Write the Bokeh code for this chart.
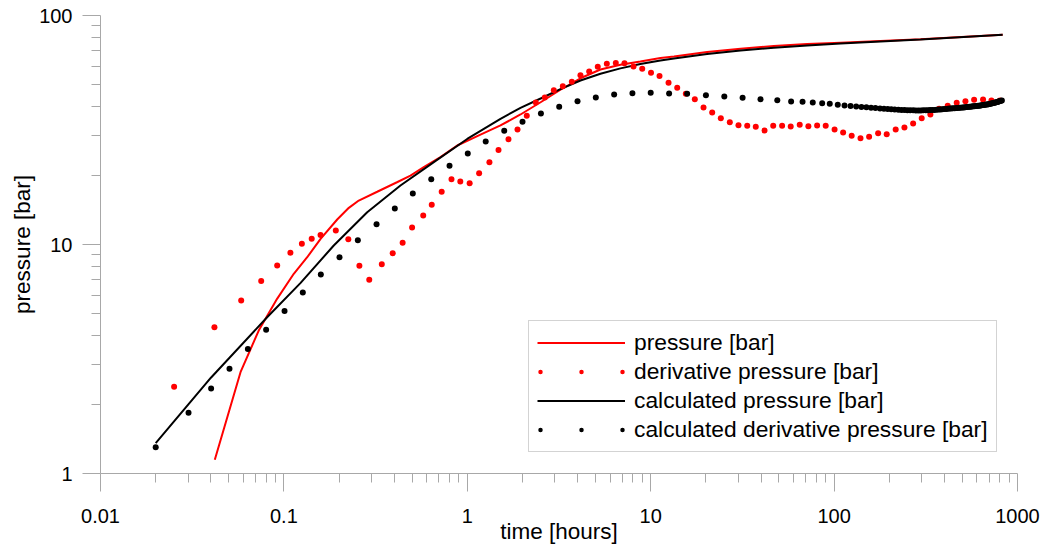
from bokeh.plotting import figure
from bokeh.models import Range1d, FixedTicker, CustomJSTickFormatter, Legend, LegendItem
from bokeh.embed import file_html
from bokeh.resources import INLINE

# ---------------- data ----------------
# measured pressure [bar]
pres_t = [0.042, 0.058, 0.0729, 0.0918, 0.1132, 0.134, 0.1585, 0.1953, 0.226, 0.256,
          0.3227, 0.4163, 0.49, 0.579, 0.714, 0.881, 1.18, 1.517, 1.95, 2.51, 3.22,
          4.14, 5.32, 6.84, 8.78, 11.3, 13.4, 20.3, 30.9, 46.9, 71.3, 108.4, 296, 830]
pres_y = [1.148, 2.77, 4.21, 5.79, 7.45, 8.80, 10.59, 12.86, 14.46, 15.56,
          17.0, 18.75, 20.0, 21.76, 24.06, 27.06, 30.2, 33.1, 36.96, 41.8, 47.4,
          53.2, 58.1, 60.92, 62.98, 65.2, 66.2, 69.2, 71.62, 73.52, 75.0, 76.07, 78.8, 82.36]

# derivative pressure [bar]
der_t = [0.0252, 0.0418, 0.0585, 0.0752, 0.0919, 0.1085, 0.1253, 0.1418, 0.1584, 0.1919,
         0.2245, 0.258, 0.292, 0.3418, 0.392, 0.444, 0.5, 0.575, 0.64, 0.725,
         0.82, 0.916, 1.03, 1.16, 1.32, 1.48, 1.677, 1.878, 2.11, 2.363,
         2.646, 2.963, 3.317, 3.714, 4.14, 4.62, 5.145, 5.764, 6.452, 7.196,
         8.06, 8.99, 10.04, 11.17, 12.51, 13.95, 15.54, 17.4, 19.41, 21.64,
         24.12, 27.0, 30.1, 33.6, 37.4, 41.75, 46.56, 52.06, 58.0, 64.95,
         72.4, 80.8, 90.0, 100.6, 112, 124.7, 139.3, 155.2, 173.8, 193.6,
         216.7, 241.8, 269.7, 300.4, 335, 373.8, 416.4, 466.1, 520, 580,
         649, 721, 802]
der_y = [2.39, 4.35, 5.69, 6.92, 8.10, 9.20, 10.07, 10.59, 11.0, 11.51,
         10.55, 8.07, 7.01, 8.20, 9.16, 10.18, 11.87, 13.38, 14.91, 16.99,
         19.27, 18.84, 18.52, 20.48, 22.88, 25.86, 28.83, 31.78, 36.48, 41.7,
         43.85, 47.2, 49.13, 51.34, 54.87, 56.95, 59.7, 61.5, 62.1, 61.9,
         59.9, 58.5, 56.26, 54.43, 50.83, 48.34, 45.5, 43.1, 39.66, 37.71,
         35.6, 34.2, 33.19, 32.98, 32.66, 31.47, 32.98, 32.98, 32.76, 33.32,
         32.86, 33.09, 32.98, 31.78, 30.84, 29.84, 29.13, 29.53, 30.62, 30.31,
         31.78, 32.43, 33.77, 35.6, 36.96, 39.13, 40.34, 41.57, 42.25, 42.85,
         42.98, 42.5, 42.5]

# calculated pressure [bar]
calc_t = [0.02, 0.04, 0.081, 0.123, 0.187, 0.2846, 0.432, 0.657, 0.999, 1.517, 1.95,
          2.51, 3.22, 4.14, 5.32, 6.84, 8.78, 11.3, 13.4, 20.3, 30.9, 46.9, 71.3,
          108.4, 296, 830]
calc_y = [1.356, 2.62, 4.81, 6.78, 9.9, 13.84, 18.1, 22.88, 28.9, 35.4, 39.5,
          43.4, 47.7, 52.0, 55.66, 58.75, 61.4, 63.6, 64.88, 67.9, 70.35, 72.27, 73.96,
          75.46, 78.56, 82.36]

# calculated derivative pressure [bar]
cder_t = [0.02, 0.0302, 0.0401, 0.0505, 0.0636, 0.080, 0.1008, 0.1268, 0.159, 0.201,
          0.253, 0.32, 0.4025, 0.5045, 0.636, 0.80, 1.006, 1.26, 1.59, 2.0,
          2.52, 3.17, 3.99, 5.02, 6.32, 7.95, 10.0, 12.6, 15.8, 20.0,
          25.2, 31.7, 39.7, 49.0, 58.3, 67.3, 76.5, 86.1, 94.7,
          104.7, 114, 123, 132, 141, 150, 159, 168, 178, 187,
          196, 205, 214, 224, 233, 242, 251, 260, 270, 279,
          288, 297, 306, 316, 325, 334, 343, 352, 362, 371,
          380, 389, 398, 408, 417, 426, 435, 444, 454, 463,
          472, 481, 490, 500, 509, 518, 527, 536, 546, 555,
          564, 573, 582, 592, 601, 610, 619, 628, 638, 647,
          656, 665, 674, 684, 693, 702, 711, 720, 730, 739,
          748, 757, 766, 776, 785, 794, 803, 812, 822]
cder_y = [1.303, 1.84, 2.35, 2.87, 3.50, 4.24, 5.13, 6.17, 7.40, 8.80,
          10.44, 12.27, 14.36, 16.7, 19.28, 22.07, 24.97, 28.18, 31.37, 34.34,
          37.33, 39.93, 42.25, 43.85, 45.2, 45.8, 45.96, 45.6, 45.5, 44.87,
          44.3, 43.7, 43.1, 42.67, 42.1, 42.0, 41.7, 41.4, 41.2,
          40.74, 40.42, 40.21, 40.05, 39.89, 39.73, 39.57, 39.42, 39.26, 39.14,
          39.03, 38.93, 38.85, 38.75, 38.69, 38.66, 38.60, 38.56, 38.54, 38.52,
          38.52, 38.52, 38.54, 38.56, 38.60, 38.64, 38.67, 38.71, 38.79, 38.87,
          38.91, 38.97, 39.03, 39.08, 39.14, 39.22, 39.26, 39.32, 39.38, 39.44,
          39.50, 39.53, 39.57, 39.65, 39.69, 39.75, 39.81, 39.87, 39.93, 39.97,
          40.05, 40.11, 40.17, 40.21, 40.27, 40.33, 40.39, 40.46, 40.54, 40.62,
          40.68, 40.74, 40.83, 40.91, 40.99, 41.07, 41.14, 41.24, 41.34, 41.45,
          41.55, 41.66, 41.78, 41.93, 42.06, 42.19, 42.31, 42.42, 42.55]

x_major = [0.01, 0.1, 1, 10, 100, 1000]
x_minor = [m * d for d in [0.01, 0.1, 1, 10, 100] for m in range(2, 10)]
y_major = [1, 10, 100]
y_minor = [m * d for d in [1, 10] for m in range(2, 10)]

labels = ["pressure [bar]", "derivative pressure [bar]",
          "calculated pressure [bar]", "calculated derivative pressure [bar]"]

# ---------------- figure ----------------
FONT = "Liberation Sans"
GRAY = "#a8a8a8"

p = figure(width=1048, height=558, x_axis_type="log", y_axis_type="log",
           x_range=Range1d(0.01, 1000), y_range=Range1d(1, 100),
           output_backend="svg", toolbar_location=None,
           min_border_left=100, min_border_right=31, min_border_top=15, min_border_bottom=85)
p.outline_line_color = None
p.grid.visible = False
p.background_fill_color = "white"
p.border_fill_color = "white"

r_pres = p.line(pres_t, pres_y, line_color="#ff0000", line_width=2)
r_calc = p.line(calc_t, calc_y, line_color="#000000", line_width=2)
p.scatter(der_t, der_y, size=6, fill_color="#ff0000", line_color=None)
p.scatter(cder_t, cder_y, size=6, fill_color="#000000", line_color=None)

# legend-only dotted glyphs (their data lie outside the visible ranges)
r_der_leg = p.line(x=[1e-4, 2e-4], y=[0.1, 0.1], line_color="#ff0000", line_width=4.5,
                   line_dash="0 41", line_dash_offset=-3, line_cap="round")
r_cder_leg = p.line(x=[1e-4, 2e-4], y=[0.1, 0.1], line_color="#000000", line_width=4.5,
                    line_dash="0 41", line_dash_offset=-3, line_cap="round")

p.xaxis.ticker = FixedTicker(ticks=x_major, minor_ticks=x_minor)
p.yaxis.ticker = FixedTicker(ticks=y_major, minor_ticks=y_minor)
p.xaxis.formatter = CustomJSTickFormatter(code="return tick.toString();")
p.yaxis.formatter = CustomJSTickFormatter(code="return tick.toString();")

for ax in (p.xaxis[0], p.yaxis[0]):
    ax.axis_line_color = GRAY
    ax.axis_line_width = 1
    ax.major_tick_line_color = GRAY
    ax.minor_tick_line_color = GRAY
    ax.major_tick_out = 18
    ax.major_tick_in = 0
    ax.minor_tick_out = 9
    ax.minor_tick_in = 0
    ax.major_label_text_font = FONT
    ax.major_label_text_font_size = "20px"
    ax.major_label_text_color = "black"
    ax.axis_label_text_font = FONT
    ax.axis_label_text_font_size = "22.5px"
    ax.axis_label_text_font_style = "normal"
    ax.axis_label_text_color = "black"

p.xaxis.axis_label = "time [hours]"
p.yaxis.axis_label = "pressure [bar]"
p.xaxis.major_label_standoff = 17
p.xaxis.axis_label_standoff = -7
p.yaxis.major_label_standoff = 10
p.yaxis.axis_label_standoff = 1

legend = Legend(items=[LegendItem(label=labels[0], renderers=[r_pres]),
                       LegendItem(label=labels[1], renderers=[r_der_leg]),
                       LegendItem(label=labels[2], renderers=[r_calc]),
                       LegendItem(label=labels[3], renderers=[r_cder_leg])],
                location=(428, 21), padding=8, spacing=2, margin=0,
                label_standoff=9, glyph_width=88, glyph_height=25, label_height=25,
                label_text_font=FONT, label_text_font_size="22.8px",
                label_text_color="black",
                border_line_color=GRAY, border_line_width=1,
                background_fill_color="white", background_fill_alpha=1.0)
p.add_layout(legend)

open("out.html", "w").write(file_html(p, INLINE))
